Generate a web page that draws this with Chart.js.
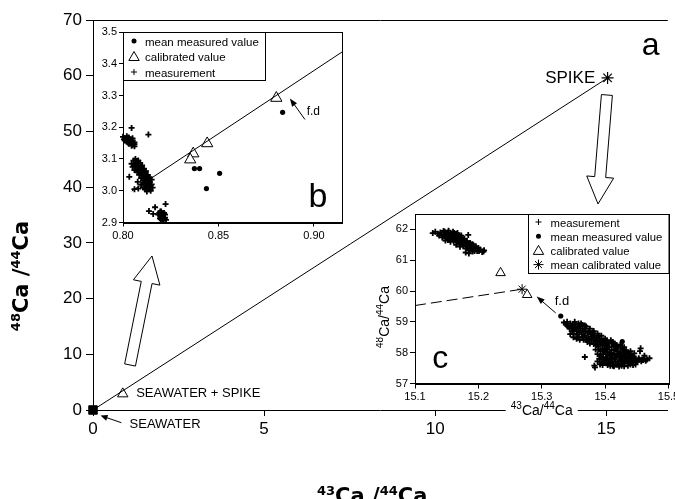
<!DOCTYPE html>
<html>
<head>
<meta charset="utf-8">
<script src="https://cdn.jsdelivr.net/npm/chart.js@4.4.0/dist/chart.umd.min.js"></script>
<style>
  html, body { margin: 0; padding: 0; background: #fff; }
  #wrap { position: relative; width: 675px; height: 499px; overflow: hidden; background: #fff; }
  canvas { position: absolute; }
  #main { left: 0; top: 0; }
  #insetB { left: 95px; top: 22px; }
  #insetC { left: 376px; top: 205px; }
</style>
</head>
<body>
<div id="wrap">
  <canvas id="main" width="675" height="499"></canvas>
  <canvas id="insetB" width="260" height="226"></canvas>
  <canvas id="insetC" width="299" height="225"></canvas>
</div>
<script>
// ---- panel a : mixing line seawater -> spike ----
const mainXTicks = [0, 5, 10, 15];
const mainYTicks = [0, 10, 20, 30, 40, 50, 60, 70];
const seawater = [[0, 0]];
const seawaterSpike = [[0.87, 2.9]];
const spike = [[15.04, 59.6]];
// hollow arrows (tail -> tip), data units of panel a
const hollowArrows = [[[1.083, 8.08], [1.724, 27.64]], [[15.02, 56.54], [14.76, 36.98]]];

// ---- panel b : zoom near seawater+spike ----
const bXTicks = [0.80, 0.85, 0.90];
const bYTicks = [2.9, 3.0, 3.1, 3.2, 3.3, 3.4, 3.5];
const bMeasurement = [
  [0.800, 3.170], [0.801, 3.165], [0.802, 3.172], [0.802, 3.160], [0.803, 3.168], [0.803, 3.155],
  [0.804, 3.162], [0.804, 3.150], [0.805, 3.158], [0.805, 3.145], [0.806, 3.152], [0.806, 3.140],
  [0.805, 3.165], [0.801, 3.158], [0.803, 3.148], [0.806, 3.146], [0.8045, 3.198],
  [0.8005, 3.162], [0.8025, 3.152], [0.8045, 3.142], [0.8055, 3.150],
  [0.8045, 3.085], [0.805, 3.075], [0.8055, 3.095], [0.806, 3.080], [0.806, 3.065], [0.8065, 3.100],
  [0.807, 3.088], [0.807, 3.070], [0.8075, 3.058], [0.808, 3.095], [0.808, 3.080], [0.808, 3.062],
  [0.8085, 3.050], [0.809, 3.088], [0.809, 3.072], [0.809, 3.055], [0.8095, 3.040], [0.810, 3.080],
  [0.810, 3.065], [0.810, 3.048], [0.8105, 3.032], [0.811, 3.070], [0.811, 3.055], [0.811, 3.040],
  [0.8115, 3.025], [0.812, 3.062], [0.812, 3.045], [0.812, 3.030], [0.8125, 3.015], [0.813, 3.050],
  [0.813, 3.035], [0.813, 3.020], [0.8135, 3.005], [0.814, 3.042], [0.814, 3.028], [0.814, 3.012],
  [0.8145, 3.000], [0.815, 3.035], [0.815, 3.020], [0.8155, 3.010], [0.8115, 3.005], [0.8125, 2.998],
  [0.8095, 3.020], [0.8065, 3.085], [0.8075, 3.075], [0.8085, 3.065], [0.8095, 3.060], [0.8105, 3.050],
  [0.8115, 3.045], [0.8125, 3.035], [0.8135, 3.025], [0.8145, 3.018], [0.8075, 3.090], [0.8095, 3.075],
  [0.8115, 3.060], [0.8135, 3.042], [0.8105, 3.010],
  [0.8133, 3.177], [0.8033, 3.044], [0.8077, 3.028], [0.808, 3.007], [0.806, 3.005],
  [0.819, 2.930], [0.8195, 2.922], [0.820, 2.935], [0.820, 2.915], [0.8205, 2.928], [0.821, 2.920],
  [0.821, 2.910], [0.8215, 2.930], [0.822, 2.915], [0.822, 2.925], [0.8225, 2.908], [0.8185, 2.925],
  [0.8198, 2.910], [0.8195, 2.935], [0.8205, 2.918], [0.8215, 2.912], [0.8205, 2.908],
  [0.8223, 2.958], [0.8136, 2.936], [0.8158, 2.927], [0.8168, 2.948], [0.8194, 2.913]
];
const bMeanMeasured = [[0.8836, 3.247], [0.8506, 3.055], [0.8437, 3.007], [0.8374, 3.07], [0.8401, 3.07]];
const bCalibrated = [[0.8803, 3.292], [0.8441, 3.149], [0.8368, 3.117], [0.8352, 3.098]];
const bFitLine = [[0.8046, 2.999], [0.9147, 3.437]];
const bFdArrow = [[0.8953, 3.2245], [0.8874, 3.2906]];

// ---- panel c : zoom near spike ----
const cXTicks = [15.1, 15.2, 15.3, 15.4, 15.5];
const cYTicks = [57, 58, 59, 60, 61, 62];
const cMeasurement = [
  [15.128, 61.88], [15.132, 61.92], [15.136, 61.86], [15.140, 61.90], [15.142, 61.82], [15.145, 61.95],
  [15.146, 61.78], [15.149, 61.86], [15.150, 61.72], [15.152, 61.90], [15.154, 61.80], [15.155, 61.68],
  [15.157, 61.84], [15.158, 61.75], [15.160, 61.92], [15.161, 61.62], [15.163, 61.78], [15.164, 61.70],
  [15.166, 61.85], [15.167, 61.58], [15.169, 61.74], [15.170, 61.66], [15.172, 61.52], [15.173, 61.80],
  [15.175, 61.60], [15.176, 61.45], [15.178, 61.70], [15.179, 61.55], [15.181, 61.38], [15.182, 61.62],
  [15.184, 61.48], [15.186, 61.33], [15.187, 61.56], [15.189, 61.42], [15.191, 61.28], [15.192, 61.50],
  [15.194, 61.36], [15.196, 61.45], [15.198, 61.30], [15.200, 61.40], [15.203, 61.35], [15.206, 61.27],
  [15.209, 61.32], [15.148, 61.64], [15.156, 61.60], [15.165, 61.50], [15.171, 61.44], [15.180, 61.25],
  [15.185, 61.22], [15.153, 61.96], [15.162, 61.88], [15.168, 61.82], [15.177, 61.66], [15.183, 61.56],
  [15.190, 61.52], [15.184, 61.82], [15.208, 61.28],
  [15.138, 61.80], [15.143, 61.74], [15.147, 61.92], [15.151, 61.80], [15.156, 61.72], [15.159, 61.82],
  [15.162, 61.66], [15.165, 61.76], [15.168, 61.62], [15.171, 61.70], [15.174, 61.54], [15.177, 61.62],
  [15.180, 61.48], [15.183, 61.44], [15.186, 61.40], [15.188, 61.36], [15.191, 61.40], [15.194, 61.30],
  [15.197, 61.38], [15.201, 61.30], [15.174, 61.74], [15.167, 61.88], [15.159, 61.70], [15.152, 61.66],
  [15.335, 58.98], [15.338, 58.92], [15.340, 59.00], [15.342, 58.85], [15.345, 58.95], [15.347, 58.80],
  [15.349, 58.90], [15.351, 58.75], [15.353, 58.86], [15.355, 58.70], [15.357, 58.82], [15.359, 58.66],
  [15.361, 58.78], [15.363, 58.60], [15.365, 58.72], [15.367, 58.55], [15.369, 58.68], [15.371, 58.50],
  [15.373, 58.64], [15.375, 58.45], [15.377, 58.60], [15.379, 58.40], [15.381, 58.55], [15.383, 58.62],
  [15.385, 58.35], [15.350, 58.62], [15.358, 58.50], [15.366, 58.42], [15.372, 58.35],
  [15.387, 58.48], [15.389, 58.20], [15.391, 58.40], [15.393, 58.05], [15.395, 58.30], [15.397, 57.95],
  [15.399, 58.22], [15.401, 57.85], [15.403, 58.12], [15.405, 57.75], [15.407, 58.02], [15.409, 57.68],
  [15.411, 57.92], [15.413, 58.20], [15.415, 57.80], [15.417, 57.62], [15.419, 57.95], [15.421, 57.72],
  [15.423, 57.85], [15.425, 57.65], [15.427, 57.78], [15.429, 57.90], [15.431, 57.70], [15.433, 57.82],
  [15.435, 57.66], [15.437, 57.76], [15.439, 57.84], [15.441, 57.70], [15.443, 57.78], [15.445, 57.72],
  [15.448, 57.80], [15.451, 57.74], [15.454, 57.78], [15.458, 57.76], [15.462, 57.80], [15.466, 57.78],
  [15.390, 58.10], [15.396, 58.15], [15.402, 58.00], [15.408, 57.90], [15.412, 57.58], [15.404, 57.60],
  [15.398, 57.70], [15.392, 57.90], [15.386, 58.25], [15.420, 58.05], [15.426, 57.58], [15.432, 57.95],
  [15.410, 58.30], [15.416, 58.10],
  [15.340, 58.88], [15.344, 58.78], [15.348, 58.70], [15.352, 58.92], [15.356, 58.58], [15.360, 58.85],
  [15.364, 58.50], [15.368, 58.78], [15.370, 58.42], [15.374, 58.70], [15.376, 58.30], [15.378, 58.52],
  [15.380, 58.66], [15.382, 58.28], [15.384, 58.45], [15.388, 58.35], [15.390, 58.55], [15.392, 58.28],
  [15.394, 58.45], [15.396, 58.05], [15.398, 58.35], [15.400, 58.10], [15.402, 58.25], [15.404, 57.95],
  [15.406, 58.18], [15.408, 57.80], [15.410, 58.08], [15.412, 57.70], [15.414, 57.98], [15.416, 57.72],
  [15.418, 57.88], [15.420, 57.62], [15.422, 57.95], [15.424, 57.75], [15.426, 57.90], [15.428, 57.68],
  [15.430, 57.80], [15.434, 57.74], [15.436, 57.88], [15.438, 57.68], [15.442, 57.80], [15.446, 57.76],
  [15.450, 57.70], [15.453, 57.82], [15.457, 57.72], [15.460, 57.76], [15.464, 57.74], [15.400, 57.75],
  [15.406, 57.65], [15.394, 57.82], [15.418, 58.15], [15.414, 58.25], [15.424, 58.00], [15.430, 58.05],
  [15.385, 58.10], [15.388, 57.95], [15.391, 57.80], [15.394, 57.68], [15.397, 58.40], [15.400, 58.35],
  [15.403, 58.40], [15.406, 58.30], [15.409, 58.40], [15.412, 58.35], [15.415, 58.30], [15.418, 58.25],
  [15.421, 58.20], [15.424, 58.25], [15.427, 58.12], [15.430, 58.18], [15.433, 58.08], [15.436, 58.00],
  [15.439, 57.95], [15.442, 57.92], [15.445, 57.88], [15.448, 57.62], [15.444, 57.60], [15.436, 57.58],
  [15.430, 57.56], [15.422, 57.55], [15.414, 57.56], [15.408, 57.58], [15.402, 57.66], [15.396, 57.60],
  [15.392, 57.62], [15.388, 57.72], [15.397, 57.85], [15.403, 57.80], [15.411, 57.82], [15.417, 57.85],
  [15.425, 57.95], [15.433, 58.00], [15.440, 58.05], [15.446, 57.98], [15.400, 58.45], [15.394, 58.55],
  [15.388, 58.62], [15.382, 58.70], [15.376, 58.78], [15.370, 58.85], [15.364, 58.90], [15.358, 58.95],
  [15.352, 59.00], [15.355, 58.45], [15.360, 58.42], [15.350, 58.50], [15.345, 58.60], [15.362, 58.95],
  [15.368, 58.88],
  [15.368, 57.86], [15.383, 57.58], [15.384, 57.52], [15.456, 58.14], [15.455, 58.05], [15.470, 57.82],
  [15.462, 57.90], [15.440, 57.62]
];
const cMeanMeasured = [[15.330, 59.19], [15.427, 58.36]];
const cCalibrated = [[15.235, 60.59], [15.277, 59.88]];
const cMeanCalibrated = [[15.269, 60.06]];
const cDashLine = [[15.1, 59.53], [15.269, 60.06]];
const cFdArrow = [[15.322, 59.29], [15.292, 59.82]];

const FONT = "'Liberation Sans', Arial, sans-serif";
const TITLE_FONT = "'DejaVu Sans', sans-serif";
const pts = arr => arr.map(p => ({ x: p[0], y: p[1] }));

function axis(min, max, ticks, fontSize, fmt, size, tickLen, pad, horizontal) {
  return {
    type: 'linear', min: min, max: max,
    afterBuildTicks: s => { s.ticks = ticks.map(v => ({ value: v })); },
    afterFit: s => {
      if (horizontal) { s.height = size; s.paddingLeft = 0; s.paddingRight = 0; }
      else { s.width = size; s.paddingTop = 0; s.paddingBottom = 0; }
    },
    grid: { drawOnChartArea: false, tickLength: tickLen, color: '#000', lineWidth: 1 },
    border: { display: true, color: '#000', width: 1 },
    ticks: { color: '#000', font: { family: FONT, size: fontSize }, padding: pad, maxRotation: 0, autoSkip: false, callback: fmt }
  };
}

// small marker drawing for legends
function sym(ctx, kind, x, y, r) {
  ctx.save();
  ctx.strokeStyle = '#000'; ctx.fillStyle = '#000'; ctx.lineWidth = 1;
  ctx.beginPath();
  if (kind === 'cross') {
    ctx.moveTo(x - r, y); ctx.lineTo(x + r, y); ctx.moveTo(x, y - r); ctx.lineTo(x, y + r); ctx.stroke();
  } else if (kind === 'circle') {
    ctx.arc(x, y, r, 0, Math.PI * 2); ctx.fill();
  } else if (kind === 'triangle') {
    ctx.moveTo(x, y - r); ctx.lineTo(x + 0.866 * r, y + 0.5 * r); ctx.lineTo(x - 0.866 * r, y + 0.5 * r); ctx.closePath(); ctx.stroke();
  } else if (kind === 'star') {
    const d = r * 0.707;
    ctx.moveTo(x - r, y); ctx.lineTo(x + r, y); ctx.moveTo(x, y - r); ctx.lineTo(x, y + r);
    ctx.moveTo(x - d, y - d); ctx.lineTo(x + d, y + d); ctx.moveTo(x - d, y + d); ctx.lineTo(x + d, y - d);
    ctx.stroke();
  }
  ctx.restore();
}

// text with superscript mass numbers, e.g. [['48',1],['Ca'],['/'],['44',1],['Ca']]
function isoText(ctx, parts, x, y, size, supSize, weight, family, align) {
  ctx.save();
  ctx.fillStyle = '#000';
  ctx.textBaseline = 'alphabetic';
  ctx.textAlign = 'left';
  let total = 0;
  const widths = parts.map(p => {
    ctx.font = weight + ' ' + (p[1] ? supSize : size) + 'px ' + family;
    const w = ctx.measureText(p[0]).width;
    total += w;
    return w;
  });
  let cx = align === 'center' ? x - total / 2 : x;
  parts.forEach((p, i) => {
    ctx.font = weight + ' ' + (p[1] ? supSize : size) + 'px ' + family;
    ctx.fillText(p[0], cx, p[1] ? y - size * 0.4 : y);
    cx += widths[i];
  });
  ctx.restore();
  return total;
}

function solidArrow(ctx, x0, y0, x1, y1, len, half) {
  const L = Math.hypot(x1 - x0, y1 - y0), ux = (x1 - x0) / L, uy = (y1 - y0) / L;
  ctx.save();
  ctx.strokeStyle = '#000'; ctx.fillStyle = '#000'; ctx.lineWidth = 1;
  ctx.beginPath(); ctx.moveTo(x0, y0); ctx.lineTo(x1 - ux * len * 0.6, y1 - uy * len * 0.6); ctx.stroke();
  ctx.beginPath();
  ctx.moveTo(x1, y1);
  ctx.lineTo(x1 - ux * len - uy * half, y1 - uy * len + ux * half);
  ctx.lineTo(x1 - ux * len + uy * half, y1 - uy * len - ux * half);
  ctx.closePath(); ctx.fill();
  ctx.restore();
}

function hollowArrow(ctx, x0, y0, x1, y1, sh, hh, hl) {
  const L = Math.hypot(x1 - x0, y1 - y0), ux = (x1 - x0) / L, uy = (y1 - y0) / L;
  const nx = -uy, ny = ux, bx = x1 - ux * hl, by = y1 - uy * hl;
  ctx.save();
  ctx.beginPath();
  ctx.moveTo(x0 + nx * sh, y0 + ny * sh);
  ctx.lineTo(bx + nx * sh, by + ny * sh);
  ctx.lineTo(bx + nx * hh, by + ny * hh);
  ctx.lineTo(x1, y1);
  ctx.lineTo(bx - nx * hh, by - ny * hh);
  ctx.lineTo(bx - nx * sh, by - ny * sh);
  ctx.lineTo(x0 - nx * sh, y0 - ny * sh);
  ctx.closePath();
  ctx.fillStyle = '#fff'; ctx.fill();
  ctx.strokeStyle = '#000'; ctx.lineWidth = 1; ctx.stroke();
  ctx.restore();
}

function plainText(ctx, txt, x, y, size, align) {
  ctx.save();
  ctx.fillStyle = '#000';
  ctx.font = size + 'px ' + FONT;
  ctx.textAlign = align || 'left';
  ctx.textBaseline = 'alphabetic';
  ctx.fillText(txt, x, y);
  ctx.restore();
}

const CA_48_44 = [['48', 1], ['Ca'], [' /'], ['44', 1], ['Ca']];
const CA_43_44 = [['43', 1], ['Ca'], ['/'], ['44', 1], ['Ca']];

// ---------------- panel a ----------------
const mainDecor = {
  id: 'mainDecor',
  afterDraw(chart) {
    const { ctx, chartArea: a, scales: { x, y } } = chart;
    const px = v => x.getPixelForValue(v), py = v => y.getPixelForValue(v);
    ctx.save();
    ctx.strokeStyle = '#000'; ctx.lineWidth = 1;
    ctx.beginPath(); ctx.moveTo(a.left, Math.round(a.top) + 0.5); ctx.lineTo(a.right, Math.round(a.top) + 0.5); ctx.stroke();
    ctx.restore();

    hollowArrows.forEach(ar => hollowArrow(ctx, px(ar[0][0]), py(ar[0][1]), px(ar[1][0]), py(ar[1][1]), 5.5, 13.5, 27));
    solidArrow(ctx, px(0.829), py(-2.28), px(0.22), py(-1.0), 7, 3);

    plainText(ctx, 'SPIKE', px(14.68), py(58.64), 17, 'right');
    plainText(ctx, 'SEAWATER + SPIKE', px(1.262), py(2.28), 13, 'left');
    plainText(ctx, 'SEAWATER', px(1.068), py(-3.18), 13, 'left');
    plainText(ctx, 'a', px(16.30), py(63.7), 32, 'center');

    // axis titles
    ctx.save();
    ctx.translate(28, 276);
    ctx.rotate(-Math.PI / 2);
    isoText(ctx, CA_48_44, 0, 0, 21, 13, 'bold', TITLE_FONT, 'center');
    ctx.restore();
    isoText(ctx, [['43', 1], ['Ca'], [' /'], ['44', 1], ['Ca']], 317, 503, 21, 13, 'bold', TITLE_FONT, 'left');
  }
};

new Chart(document.getElementById('main'), {
  type: 'scatter',
  data: {
    datasets: [
      { label: 'mixing', data: pts([seawater[0], spike[0]]), showLine: true, borderColor: '#000', borderWidth: 1, pointRadius: 0 },
      { label: 'SEAWATER', data: pts(seawater), pointStyle: 'rect', pointRadius: 6, backgroundColor: '#000', borderColor: '#000', clip: false },
      { label: 'SEAWATER + SPIKE', data: pts(seawaterSpike), pointStyle: 'triangle', pointRadius: 6, backgroundColor: '#fff', borderColor: '#000', borderWidth: 1, clip: false },
      { label: 'SPIKE', data: pts(spike), pointStyle: 'star', pointRadius: 6, borderColor: '#000', borderWidth: 1.2, clip: false }
    ]
  },
  options: {
    responsive: false, animation: false, devicePixelRatio: 1,
    layout: { padding: { top: 20, right: 0, left: 0, bottom: 0 } },
    plugins: { legend: { display: false }, tooltip: { enabled: false } },
    scales: {
      x: axis(0, 16.8, mainXTicks, 17, v => String(v), 89, 6, 3, true),
      y: axis(0, 70, mainYTicks, 17, v => String(v), 93, 7, 4, false)
    }
  },
  plugins: [mainDecor]
});

// ---------------- panel b ----------------
const insetBDecor = {
  id: 'insetBDecor',
  beforeDraw(chart) {
    const { ctx, chartArea: a } = chart;
    ctx.save(); ctx.fillStyle = '#fff'; ctx.fillRect(a.left, a.top, a.right - a.left, a.bottom - a.top); ctx.restore();
  },
  afterDraw(chart) {
    const { ctx, chartArea: a, scales: { x, y } } = chart;
    const px = v => x.getPixelForValue(v), py = v => y.getPixelForValue(v);
    ctx.save();
    ctx.strokeStyle = '#000'; ctx.lineWidth = 1;
    ctx.strokeRect(Math.round(a.left) + 0.5, Math.round(a.top) + 0.5, Math.round(a.right - a.left), Math.round(a.bottom - a.top));
    // legend
    ctx.fillStyle = '#fff';
    ctx.fillRect(a.left + 0.5, a.top + 0.5, 142, 48);
    ctx.strokeRect(Math.round(a.left) + 0.5, Math.round(a.top) + 0.5, 142, 48);
    ctx.restore();
    const items = [['circle', 'mean measured value', 2.5], ['triangle', 'calibrated value', 6], ['cross', 'measurement', 3]];
    items.forEach((it, i) => {
      const yy = a.top + 9 + i * 15.5;
      sym(ctx, it[0], a.left + 11, yy + (it[0] === 'triangle' ? 1 : 0), it[2]);
      plainText(ctx, it[1], a.left + 22, yy + 4.5, 11.5, 'left');
    });
    plainText(ctx, 'b', px(0.9021), py(2.950), 34, 'center');
    solidArrow(ctx, px(bFdArrow[0][0]), py(bFdArrow[0][1]), px(bFdArrow[1][0]), py(bFdArrow[1][1]), 8, 3);
    plainText(ctx, 'f.d', px(0.8962), py(3.240), 12, 'left');
  }
};

new Chart(document.getElementById('insetB'), {
  type: 'scatter',
  data: {
    datasets: [
      { label: 'line', data: pts(bFitLine), showLine: true, borderColor: '#000', borderWidth: 1, pointRadius: 0 },
      { label: 'measurement', data: pts(bMeasurement), pointStyle: 'cross', pointRadius: 3, borderColor: '#000', borderWidth: 1.8, clip: false },
      { label: 'mean measured value', data: pts(bMeanMeasured), pointStyle: 'circle', pointRadius: 2.6, backgroundColor: '#000', borderColor: '#000', borderWidth: 0 },
      { label: 'calibrated value', data: pts(bCalibrated), pointStyle: 'triangle', pointRadius: 6.5, backgroundColor: '#fff', borderColor: '#000', borderWidth: 1 }
    ]
  },
  options: {
    responsive: false, animation: false, devicePixelRatio: 1,
    layout: { padding: { top: 10, right: 13, left: 0, bottom: 0 } },
    plugins: { legend: { display: false }, tooltip: { enabled: false } },
    scales: {
      x: axis(0.8, 0.9147, bXTicks, 11, v => v.toFixed(2), 25.5, 4, 3, true),
      y: axis(2.9, 3.5, bYTicks, 11, v => v.toFixed(1), 28, 4, 2, false)
    }
  },
  plugins: [insetBDecor]
});

// ---------------- panel c ----------------
const insetCDecor = {
  id: 'insetCDecor',
  beforeDraw(chart) {
    const { ctx, chartArea: a } = chart;
    ctx.save(); ctx.fillStyle = '#fff'; ctx.fillRect(a.left, a.top, a.right - a.left, a.bottom - a.top); ctx.restore();
  },
  afterDraw(chart) {
    const { ctx, chartArea: a, scales: { x, y } } = chart;
    const px = v => x.getPixelForValue(v), py = v => y.getPixelForValue(v);
    ctx.save();
    ctx.strokeStyle = '#000'; ctx.lineWidth = 1;
    ctx.strokeRect(Math.round(a.left) + 0.5, Math.round(a.top) + 0.5, Math.round(a.right - a.left), Math.round(a.bottom - a.top));
    const lx = Math.round(a.left + 113) + 0.5;
    ctx.fillStyle = '#fff';
    ctx.fillRect(lx, a.top + 0.5, a.right - lx, 59);
    ctx.strokeRect(lx, Math.round(a.top) + 0.5, Math.round(a.right) - lx, 59);
    ctx.restore();
    const items = [['cross', 'measurement', 3], ['circle', 'mean measured value', 2.5], ['triangle', 'calibrated value', 6], ['star', 'mean calibrated value', 5]];
    items.forEach((it, i) => {
      const yy = a.top + 8 + i * 14.2;
      sym(ctx, it[0], lx + 10, yy + (it[0] === 'triangle' ? 1 : 0), it[2]);
      plainText(ctx, it[1], lx + 22, yy + 4.5, 11.3, 'left');
    });
    plainText(ctx, 'c', px(15.140), py(57.49), 32, 'center');
    solidArrow(ctx, px(cFdArrow[0][0]), py(cFdArrow[0][1]), px(cFdArrow[1][0]), py(cFdArrow[1][1]), 8, 3);
    plainText(ctx, 'f.d', px(15.3205), py(59.55), 13, 'left');

    // x title with white backing (it sits on the main x axis)
    ctx.save();
    ctx.fillStyle = '#fff';
    ctx.fillRect((a.left + a.right) / 2 - 36, a.bottom + 21, 72, 14);
    ctx.restore();
    isoText(ctx, CA_43_44, (a.left + a.right) / 2, a.bottom + 31.5, 14, 10, 'normal', FONT, 'center');
    ctx.save();
    ctx.translate(a.left - 26, 112);
    ctx.rotate(-Math.PI / 2);
    isoText(ctx, CA_43_44.map((p, i) => i === 0 ? ['48', 1] : p), 0, 0, 14, 10, 'normal', FONT, 'center');
    ctx.restore();
  }
};

new Chart(document.getElementById('insetC'), {
  type: 'scatter',
  data: {
    datasets: [
      { label: 'dash', data: pts(cDashLine), showLine: true, borderColor: '#000', borderWidth: 1, borderDash: [11, 5], pointRadius: 0 },
      { label: 'measurement', data: pts(cMeasurement), pointStyle: 'cross', pointRadius: 3, borderColor: '#000', borderWidth: 1.8, clip: false },
      { label: 'mean measured value', data: pts(cMeanMeasured), pointStyle: 'circle', pointRadius: 2.6, backgroundColor: '#000', borderColor: '#000', borderWidth: 0 },
      { label: 'calibrated value', data: pts(cCalibrated), pointStyle: 'triangle', pointRadius: 5.5, backgroundColor: '#fff', borderColor: '#000', borderWidth: 1 },
      { label: 'mean calibrated value', data: pts(cMeanCalibrated), pointStyle: 'star', pointRadius: 5, borderColor: '#000', borderWidth: 1 }
    ]
  },
  options: {
    responsive: false, animation: false, devicePixelRatio: 1,
    layout: { padding: { top: 9, right: 6, left: 0, bottom: 0 } },
    plugins: { legend: { display: false }, tooltip: { enabled: false } },
    scales: {
      x: axis(15.1, 15.5, cXTicks, 11, v => v.toFixed(1), 46.5, 5, 2, true),
      y: axis(57, 62.5, cYTicks, 11, v => String(v), 39, 5, 2, false)
    }
  },
  plugins: [insetCDecor]
});
</script>
</body>
</html>
